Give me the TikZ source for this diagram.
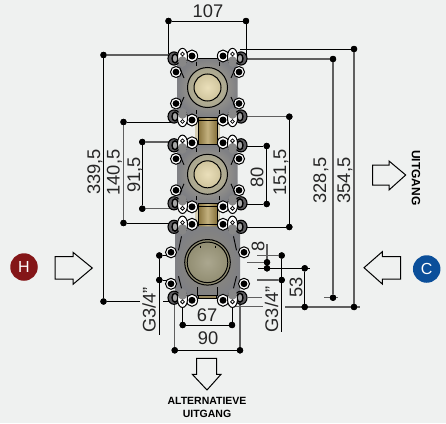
\documentclass[tikz,border=0pt]{standalone}
\usepackage{fontspec}
\setmainfont{Liberation Sans}
\definecolor{bgc}{HTML}{EFF1F0}
\definecolor{gl}{HTML}{5F5F5F}
\definecolor{earg}{HTML}{5E5D60}
\definecolor{hred}{HTML}{841618}
\definecolor{cblue}{HTML}{0B4F9A}
\definecolor{gold}{HTML}{A98F48}
\definecolor{golddark}{HTML}{86713A}
\definecolor{bodyin}{HTML}{B5AE96}
\definecolor{bodyout}{HTML}{7F8084}
\definecolor{ringin}{HTML}{C8BE98}
\definecolor{ringout}{HTML}{A8A58F}
\definecolor{corein}{HTML}{EADFBA}
\definecolor{coreout}{HTML}{CFC49C}
\definecolor{bigin}{HTML}{ABA78F}
\definecolor{bigout}{HTML}{8F8B6F}
\tikzset{
  x=1pt,y=-1pt,
  dimln/.style={line width=1pt,draw=black},
  greyln/.style={line width=1.1pt,draw=gl},
  dimdot/.style={circle,fill=black,inner sep=0pt,minimum size=6.4pt},
  numtxt/.style={font=\fontsize{18.3}{18}\selectfont,inner sep=0pt,text=black!85},
  flow/.style={draw=black,line width=1pt,fill=bgc,line join=miter},
  caption/.style={font=\fontsize{10.5}{12}\selectfont\bfseries,inner sep=0pt,align=center},
  badge/.style={circle,inner sep=0pt,minimum size=27.5pt,text=white,font=\fontsize{16}{16}\selectfont},
  ring/.style={draw=black,line width=1pt,fill=white},
  thin line/.style={black,line width=.9pt},
}
\newcommand{\dimv}[5][dimln]{%
  \node[dimdot] (#2a) at (#3,#4) {};
  \node[dimdot] (#2b) at (#3,#5) {};
  \draw[#1] (#2a) -- (#2b);
}
\newcommand{\dimh}[5][dimln]{%
  \node[dimdot] (#2a) at (#4,#3) {};
  \node[dimdot] (#2b) at (#5,#3) {};
  \draw[#1] (#2a) -- (#2b);
}
% one quadrant of ears: #1 corner y, #2 white ear y, #3 small circle y, #4 dot y, #5 y of the grey inner part of the ear
\newcommand{\earsq}[5]{%
  \draw[black,line width=1.1pt,fill=earg] (33.5,#1) ellipse (6 and 6.6);
  \draw[black,line width=1.4pt,fill=black!35] (32.5,#1) ellipse (3 and 4.4);
  \draw[ring] (15.5,#4) ellipse (5.6 and 6);
  \fill[black] (15.5,#4) circle (3.5);
  \draw[ring] (25,#2) ellipse (5 and 8.2);
  \fill[bodyout!85!bodyin] (25,#5) ellipse (4.4 and 5.5);
  \draw[black,line width=.8pt,fill=white] (25,#3) circle (1.9);
}
\newcommand{\sideear}[2]{%
  \draw[ring] (#1,#2) circle (5.5);
  \fill[black] (#1,#2) circle (3.4);
}
\begin{document}
\begin{tikzpicture}
\useasboundingbox[fill=bgc] (0,0) rectangle (446,423);

% extension lines
\coordinate (e107l) at (168.5,60); \coordinate (e107r) at (246,60);
\coordinate (e339t) at (172,55); \coordinate (e339m) at (140,301.5); \coordinate (e339n) at (163,301.5); \coordinate (e339e) at (174,301.5);
\coordinate (e140t) at (172,122); \coordinate (e140b) at (172,223);
\coordinate (e91t) at (172,142); \coordinate (e91b) at (172,208.7);
\coordinate (e80t) at (240,146); \coordinate (e80b) at (240,204);
\coordinate (e151t) at (240,116.7); \coordinate (e151b) at (240,227);
\coordinate (e328t) at (240,59); \coordinate (e328b) at (324,297.7);
\coordinate (e328c) at (248,297.7); \coordinate (e328d) at (262,297.7); \coordinate (e328x) at (338,297.7);
\coordinate (e354t) at (240,49); \coordinate (e354b) at (285,307); \coordinate (e354x) at (360,307);
\coordinate (e354c) at (231,306.5); \coordinate (e354d) at (263,306.5);
\coordinate (e8a) at (246.7,262.3); \coordinate (e8b) at (258,268.3); \coordinate (e8u) at (267,244); \coordinate (e53x) at (310,268.3);
\coordinate (eg1) at (257,255.5); \coordinate (eg2) at (257,280);
\coordinate (eg3) at (281.7,332); \coordinate (eg4) at (159.3,335);
\coordinate (e67l) at (182.7,300); \coordinate (e67r) at (232,300);
\coordinate (e90l) at (174.7,300); \coordinate (e90r) at (240,300);

\dimh{d107}{21}{168.5}{246}
\draw[dimln] (d107a) -- (e107l); \draw[dimln] (d107b) -- (e107r);
\dimv{d339}{103.5}{55}{301.5}
\draw[greyln] (d339a) -- (e339t); \draw[dimln] (d339b) -- (e339m); \draw[dimln] (e339n) -- (e339e);
\dimv[greyln]{d140}{123.5}{122}{223}
\draw[dimln] (d140a) -- (e140t); \draw[dimln] (d140b) -- (e140b);
\dimv{d91}{142.3}{142}{208.7}
\draw[greyln] (d91a) -- (e91t); \draw[greyln] (d91b) -- (e91b);
\dimv{d80}{266.7}{146}{204}
\draw[dimln] (d80a) -- (e80t); \draw[dimln] (d80b) -- (e80b);
\dimv{d151}{289.3}{116.7}{227}
\draw[greyln] (d151a) -- (e151t); \draw[dimln] (d151b) -- (e151b);
\dimv[greyln]{d328}{333}{59}{297.7}
\draw[greyln] (d328a) -- (e328t); \draw[greyln] (e328b) -- (e328x); \draw[greyln] (e328c) -- (e328d);
\dimv[greyln]{d354}{354}{49}{307}
\draw[dimln] (d354a) -- (e354t); \draw[greyln] (e354b) -- (e354x); \draw[greyln] (e354c) -- (e354d);
\dimv{d8}{267}{262.3}{268.3}
\draw[greyln] (d8a) -- (e8u); \draw[greyln] (d8a) -- (e8a); \draw[dimln] (e8b) -- (e53x);
\dimv{d53}{304.7}{268.3}{307}
\node[dimdot] (gra) at (281.7,255.5) {}; \node[dimdot] (grb) at (281.7,280) {};
\draw[dimln] (gra) -- (eg3); \draw[greyln] (gra) -- (eg1); \draw[greyln] (grb) -- (eg2);
\node[dimdot] (gla) at (159.3,255.5) {}; \node[dimdot] (glb) at (159.3,280) {};
\draw[dimln] (gla) -- (eg4); \draw[dimln] (gla) -- (172,255.5); \draw[dimln] (glb) -- (172,280);
\dimh{d67}{325}{182.7}{232}
\draw[dimln] (d67a) -- (e67l); \draw[dimln] (d67b) -- (e67r);
\dimh{d90}{350.3}{174.7}{240}
\draw[greyln] (d90a) -- (e90l); \draw[greyln] (d90b) -- (e90r);
% dots back on top of their lines
\foreach \n in {d107a,d107b,d339a,d339b,d140a,d140b,d91a,d91b,d80a,d80b,d151a,d151b,d328a,d328b,d354a,d354b,d8a,d8b,d53a,d53b,gra,grb,gla,glb,d67a,d67b,d90a,d90b}
  \fill[black] (\n.center) circle (3.2);

% connector sleeves
\foreach \ya/\yb in {117/147,203/227}{
  \fill[gold!35!bgc] (195,\ya) rectangle (220,\yb);
  \draw[black,line width=1pt,left color=golddark,right color=golddark,middle color=gold!70!white] (198,\ya) rectangle (217,\yb);
  \draw[black,line width=.8pt] (198,\ya+3) -- (217,\ya+3) (198,\yb-3) -- (217,\yb-3);
}

% upper two plates
\foreach \cy in {87.5,174.3}{
\begin{scope}[shift={(207.5,\cy)}]
  \path[inner color=bodyin,outer color=bodyout]
    (-30,-24) -- (-20,-29.5) -- (20,-29.5) -- (30,-24) -- (30,24) -- (20,29.5) -- (-20,29.5) -- (-30,24) -- cycle;
  \draw[black,line width=1pt] (-10,-29.5) -- (10,-29.5) (-10,29.5) -- (10,29.5);
  \foreach \sx in {1,-1}{
    \begin{scope}[xscale=\sx]
      \sideear{31.5}{-15.5} \sideear{31.5}{16}
      \earsq{-29}{-31}{-33.5}{-31.5}{-26}
      \earsq{29}{31}{34}{32.5}{26}
      \draw[thin line] (23.5,-9.5) -- (27.7,-19);
      \draw[thin line] (23.5,9.5) -- (27.7,19);
      \draw[thin line] (11.5,-26) -- (11.5,-22) (11.5,26) -- (11.5,22);
    \end{scope}
  }
  \draw[black,line width=1pt,inner color=ringin,outer color=ringout] (0,0) circle (20);
  \draw[black,line width=1pt,inner color=corein,outer color=coreout] (0,0) circle (13.5);
\end{scope}
}

% lower plate
\begin{scope}[shift={(207.5,262.3)}]
  \path[inner color=bodyin!80!black,outer color=bodyout]
    (-32.5,-30) -- (-20,-36) -- (20,-36) -- (32.5,-30) -- (32.5,30) -- (20,36) -- (-20,36) -- (-32.5,30) -- cycle;
  \foreach \sx in {1,-1}{
    \begin{scope}[xscale=\sx]
      \sideear{36.5}{-10} \sideear{36.5}{21.5}
      \earsq{-35.5}{-38}{-39.8}{-38}{-33}
      \earsq{35.4}{37}{39.5}{38}{32}
      \draw[thin line] (26,-26) -- (29,-12);
      \draw[thin line] (26,26) -- (29,14);
      \draw[thin line] (10,25) -- (10,34);
    \end{scope}
  }
  \draw[black,line width=.8pt,fill=gold!60!bodyout] (-9,33) rectangle (9,36);
  \draw[black,line width=1pt,inner color=bigin,outer color=bigout] (0,0) circle (22.8);
  \draw[black,line width=1pt] (0,0) circle (20.3);
  \draw[black,line width=.8pt] (-7,-16.5) -- (-7,-14) (7.5,-16.5) -- (7.5,-14);
\end{scope}

% dimension labels
\node[numtxt] (t107) at (208,11) {107};
\node[numtxt,rotate=90] (t339) at (95,172) {339,5};
\node[numtxt,rotate=90] (t140) at (114.5,172.5) {140,5};
\node[numtxt,rotate=90] (t91) at (135,175) {91,5};
\node[numtxt,rotate=90] (t80) at (257,177) {80};
\node[numtxt,rotate=90] (t151) at (281,172.5) {151,5};
\node[numtxt,rotate=90] (t328) at (321,180.5) {328,5};
\node[numtxt,rotate=90] (t354) at (345,180.5) {354,5};
\node[numtxt,rotate=90] (t8) at (258,246) {8};
\node[numtxt,rotate=90] (t53) at (296,287) {53};
\node[numtxt,rotate=90] (tg1) at (149,310) {G3/4"};
\node[numtxt,rotate=90] (tg2) at (271.7,309.5) {G3/4"};
\node[numtxt] (t67) at (207,315.5) {67};
\node[numtxt] (t90) at (208,338) {90};

% flow arrows
\node[badge,fill=hred] (hot) at (24,267) {H};
\node[badge,fill=cblue] (cold) at (426.7,269) {C};
\draw[flow] (55,256.7) -- (73,256.7) -- (73,252.3) -- (92.3,268) -- (73,284.3) -- (73,279) -- (55,279) -- cycle;
\draw[flow] (400.7,256.7) -- (382.3,256.7) -- (382.3,251.7) -- (364,267.7) -- (382.3,284) -- (382.3,279) -- (400.7,279) -- cycle;
\draw[flow] (372.7,165) -- (389,165) -- (389,161) -- (405.7,175) -- (389,190) -- (389,185) -- (372.7,185) -- cycle;
\draw[flow] (196.7,358.3) -- (216.7,358.3) -- (216.7,374.3) -- (221,374.3) -- (207,390) -- (192.3,374.3) -- (196.7,374.3) -- cycle;
\node[caption,rotate=-90,font=\fontsize{12}{12}\selectfont\bfseries] (tu) at (416,177.7) {UITGANG};
\node[caption] (ta) at (207,401) {ALTERNATIEVE};
\node[caption] (tb) at (207,414) {UITGANG};
\end{tikzpicture}
\end{document}
